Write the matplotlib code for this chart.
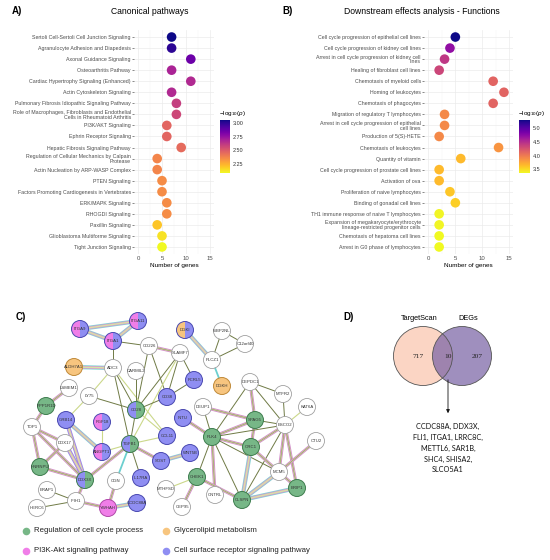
import numpy as np
import matplotlib
matplotlib.use("Agg")
import matplotlib.pyplot as plt
from matplotlib.patches import Circle, Wedge

plt.rcParams["font.family"] = ["Liberation Sans", "DejaVu Sans"]
plt.rcParams["mathtext.fontset"] = "custom"
plt.rcParams["mathtext.rm"] = "Liberation Sans"
plt.rcParams["mathtext.it"] = "Liberation Sans:italic"

# ============================================================
# 1. DATA
# ============================================================

# Panel A - canonical pathways
cp_terms = [
    "Sertoli Cell-Sertoli Cell Junction Signaling",
    "Agranulocyte Adhesion and Diapedesis",
    "Axonal Guidance Signaling",
    "Osteoarthritis Pathway",
    "Cardiac Hypertrophy Signaling (Enhanced)",
    "Actin Cytoskeleton Signaling",
    "Pulmonary Fibrosis Idiopathic Signaling Pathway",
    "Role of Macrophages, Fibroblasts and Endothelial\nCells in Rheumatoid Arthritis",
    "PI3K/AKT Signaling",
    "Ephrin Receptor Signaling",
    "Hepatic Fibrosis Signaling Pathway",
    "Regulation of Cellular Mechanics by Calpain\nProtease",
    "Actin Nucleation by ARP-WASP Complex",
    "PTEN Signaling",
    "Factors Promoting Cardiogenesis in Vertebrates",
    "ERK/MAPK Signaling",
    "RHOGDI Signaling",
    "Paxillin Signaling",
    "Glioblastoma Multiforme Signaling",
    "Tight Junction Signaling",
]
cp_genes = [7, 7, 11, 7, 11, 7, 8, 8, 6, 6, 9, 4, 4, 5, 5, 6, 6, 4, 5, 5]
cp_logp = [3.06, 3.01, 2.86, 2.69, 2.67, 2.67, 2.60, 2.57, 2.47, 2.47,
           2.45, 2.37, 2.37, 2.35, 2.35, 2.35, 2.35, 2.20, 2.13, 2.08]

# Panel B - downstream effects
fn_terms = [
    "Cell cycle progression of epithelial cell lines",
    "Cell cycle progression of kidney cell lines",
    "Arrest in cell cycle progression of kidney cell\nlines",
    "Healing of fibroblast cell lines",
    "Chemotaxis of myeloid cells",
    "Homing of leukocytes",
    "Chemotaxis of phagocytes",
    "Migration of regulatory T lymphocytes",
    "Arrest in cell cycle progression of epithelial\ncell lines",
    "Production of 5(S)-HETE",
    "Chemotaxis of leukocytes",
    "Quantity of vitamin",
    "Cell cycle progression of prostate cell lines",
    "Activation of ova",
    "Proliferation of naive lymphocytes",
    "Binding of gonadal cell lines",
    "TH1 immune response of naive T lymphocytes",
    "Expansion of megakaryocyte/erythrocyte\nlineage-restricted progenitor cells",
    "Chemotaxis of hepatoma cell lines",
    "Arrest in G0 phase of lymphocytes",
]
fn_genes = [5, 4, 3, 2, 12, 14, 12, 3, 3, 2, 13, 6, 2, 2, 4, 5, 2, 2, 2, 2]
fn_logp = [5.29, 4.71, 4.43, 4.33, 4.14, 4.14, 4.14, 3.91, 3.91, 3.91,
           3.85, 3.66, 3.66, 3.66, 3.60, 3.56, 3.39, 3.39, 3.37, 3.37]

# Panel C - network (layout positions in picture pixels)
node_names = ["ITGA9", "ITGA11", "ITGA1", "DGKI", "WBP2NL", "C12orf40", "CD226",
              "SLAMF7", "PLCZ1", "ALDH7A1", "ADC3", "CARMIL2", "FCRL5", "DGKH",
              "DEPDC1", "LSMEM1", "LY75", "CD38", "PPP1R1D", "CD28", "DEUP1",
              "INTU", "SPAG5", "GRB14", "FGF18", "TOP1", "MTFR2", "KAT6A", "ESCO2",
              "CTU2", "MCM5", "BRIP1", "DDX17", "ANGPT1", "TGFB1", "CCL11", "PLK4",
              "ORC1", "HNRNPU", "WNT5B", "SOST", "DDX3X", "CGN", "IL17RA", "CHEK1",
              "MTHFSD", "CNTRL", "CLSPN", "ERAP1", "IFIH1", "HERC6", "YWHAH",
              "CCDC88A", "CEP95"]
node_x = [80, 138, 113, 185, 222, 245, 149, 180, 212, 74, 113, 136, 194, 222,
          250, 69, 89, 167, 46, 136, 203, 183, 255, 66, 102, 32, 283, 307, 285,
          316, 279, 297, 65, 102, 130, 167, 212, 251, 40, 190, 161, 85, 116, 141,
          197, 166, 215, 242, 47, 76, 37, 108, 137, 182]
node_y = [329, 321, 341, 330, 331, 344, 346, 353, 360, 367, 368, 371, 380, 386,
          382, 388, 396, 397, 406, 410, 407, 418, 420, 420, 422, 427, 394, 407,
          425, 441, 472, 488, 443, 452, 444, 436, 437, 447, 467, 453, 461, 480,
          481, 478, 477, 489, 495, 500, 490, 501, 508, 508, 503, 507]
# g = cell cycle, o = glycerolipid, p = PI3K-Akt, b = cell surface receptor
node_groups = ["pb", "pb", "pb", "ob", "", "", "", "", "", "o", "", "", "b", "o",
               "", "", "", "b", "g", "bg", "", "b", "g", "b", "pb", "", "", "", "",
               "", "", "g", "", "pb", "bg", "b", "g", "g", "g", "b", "b", "bg", "",
               "b", "g", "", "", "g", "", "", "", "p", "b", ""]

edges = [
    ("ITGA9", "ITGA11", "m"), ("ITGA9", "ITGA1", "m"), ("ITGA11", "ITGA1", "m"),
    ("ITGA1", "CD226", "d"), ("ITGA1", "ADC3", "d"),
    ("CD226", "SLAMF7", "p"), ("CD226", "CD28", "d"), ("CD226", "CD38", "d"),
    ("SLAMF7", "CD28", "d"), ("SLAMF7", "CD38", "d"), ("SLAMF7", "FCRL5", "d"),
    ("SLAMF7", "TGFB1", "l"), ("ALDH7A1", "ADC3", "m"),
    ("ADC3", "LY75", "l"), ("ADC3", "CD28", "d"), ("ADC3", "TGFB1", "d"),
    ("ADC3", "CCL11", "l"), ("CARMIL2", "CD28", "d"),
    ("LY75", "CD28", "d"), ("LY75", "GRB14", "l"),
    ("LSMEM1", "PPP1R1D", "p"), ("PPP1R1D", "TOP1", "p"),
    ("CD28", "CD38", "d"), ("CD28", "TGFB1", "d"), ("CD28", "CCL11", "l"),
    ("CD38", "FCRL5", "d"),
    ("DGKI", "PLCZ1", "m"), ("WBP2NL", "PLCZ1", "d"), ("WBP2NL", "C12orf40", "d"),
    ("C12orf40", "PLCZ1", "d"), ("PLCZ1", "DGKH", "c"),
    ("DEPDC1", "SPAG5", "p"), ("DEPDC1", "MTFR2", "d"), ("DEPDC1", "ESCO2", "d"),
    ("DEPDC1", "PLK4", "d"), ("DEUP1", "SPAG5", "p"), ("DEUP1", "PLK4", "d"),
    ("INTU", "PLK4", "p"),
    ("SPAG5", "PLK4", "p"), ("SPAG5", "ESCO2", "d"), ("SPAG5", "ORC1", "p"),
    ("MTFR2", "ESCO2", "d"), ("KAT6A", "ESCO2", "l"),
    ("ESCO2", "PLK4", "d"), ("ESCO2", "ORC1", "p"), ("ESCO2", "MCM5", "p"),
    ("ESCO2", "BRIP1", "p"), ("ESCO2", "CLSPN", "d"), ("CTU2", "MCM5", "p"),
    ("PLK4", "ORC1", "p"), ("PLK4", "MCM5", "d"), ("PLK4", "CLSPN", "d"),
    ("PLK4", "CHEK1", "d"), ("PLK4", "CNTRL", "p"),
    ("ORC1", "MCM5", "p"), ("ORC1", "CLSPN", "m"),
    ("MCM5", "CLSPN", "m"), ("BRIP1", "CLSPN", "m"), ("MCM5", "BRIP1", "p"),
    ("CHEK1", "MTHFSD", "l"), ("CHEK1", "CEP95", "p"), ("CHEK1", "CLSPN", "p"),
    ("SOST", "WNT5B", "m"), ("SOST", "TGFB1", "p"),
    ("TGFB1", "ANGPT1", "l"), ("TGFB1", "CCL11", "l"), ("TGFB1", "IL17RA", "d"),
    ("TGFB1", "DDX3X", "p"), ("TGFB1", "CGN", "c"),
    ("FGF18", "ANGPT1", "l"), ("GRB14", "DDX3X", "b"), ("GRB14", "ANGPT1", "m"),
    ("TOP1", "DDX17", "p"), ("TOP1", "HNRNPU", "p"), ("TOP1", "DDX3X", "p"),
    ("DDX17", "HNRNPU", "p"), ("DDX17", "DDX3X", "b"), ("HNRNPU", "DDX3X", "p"),
    ("DDX3X", "IFIH1", "p"), ("CGN", "YWHAH", "p"), ("ERAP1", "IFIH1", "d"),
    ("HERC6", "IFIH1", "d"), ("IFIH1", "YWHAH", "p"), ("YWHAH", "CCDC88A", "m"),
]

legend_labels = ["Regulation of cell cycle process", "Glycerolipid metabolism",
                 "PI3K-Akt signaling pathway", "Cell surface receptor signaling pathway"]
legend_keys = ["g", "o", "p", "b"]

# Panel D - Venn
venn_sets = ["TargetScan", "DEGs"]
venn_counts = [717, 10, 207]
shared_genes = ["CCDC88A", "DDX3X", "FLI1", "ITGA1", "LRRC8C",
                "METTL6", "SAR1B", "SHC4", "SHISA2", "SLCO5A1"]

group_col = {"g": "#77b787", "o": "#f7c57f", "p": "#f07ee8", "b": "#8f8ef2"}
group_edge = {"g": "#3f7d4f", "o": "#c08a3a", "p": "#b04aa8", "b": "#4a49b0"}

W, H = 550, 560
fig = plt.figure(figsize=(W / 100, H / 100), dpi=100)


def px_axes(l, r, t, b):
    return fig.add_axes([l / W, 1 - b / H, (r - l) / W, (b - t) / H])


# ============================================================
# 2. Dot plots (A and B)
# ============================================================

def dot_panel(l, r, terms, genes, logp, cbar_box, cticks, cfmt):
    ax = px_axes(l, r, 30.4, 253.6)
    n = len(terms)
    ypos = np.arange(n)[::-1]
    sc = ax.scatter(genes, ypos, c=logp, cmap="plasma_r", s=48, zorder=3,
                    vmin=min(logp), vmax=max(logp), linewidths=0)
    ax.set_xlim(-0.75, 15.75)
    ax.set_ylim(-0.6, n - 0.4)
    ax.set_xticks([0, 5, 10, 15])
    ax.set_xticks([2.5, 7.5, 12.5], minor=True)
    ax.set_yticks(ypos)
    ax.set_yticklabels(terms, fontsize=3.8, color="#4d4d4d", linespacing=0.95)
    ax.tick_params(axis="x", labelsize=4.3, labelcolor="#4d4d4d", length=0, pad=2)
    ax.tick_params(axis="x", which="minor", length=0)
    ax.tick_params(axis="y", length=1.5, width=0.4, color="#333333", pad=1)
    ax.grid(True, which="major", color="#ebebeb", linewidth=0.5)
    ax.grid(True, which="minor", axis="x", color="#f4f4f4", linewidth=0.3)
    for s in ax.spines.values():
        s.set_visible(False)
    ax.set_xlabel("Number of genes", fontsize=4.6, labelpad=1.5)

    cax = px_axes(*cbar_box)
    cb = fig.colorbar(sc, cax=cax)
    cb.outline.set_visible(False)
    cb.set_ticks(cticks)
    cb.set_ticklabels([cfmt.format(t) for t in cticks])
    cax.tick_params(labelsize=4, length=0, pad=2, labelcolor="#333333")
    fig.text((cbar_box[0] - 1) / W, 1 - 113 / H, r"$-\mathrm{log}_{10}(p)$",
             fontsize=4.6, ha="left", va="center")
    return ax


dot_panel(134.4, 213.6, cp_terms, cp_genes, cp_logp,
          (220, 230, 120, 173), [2.25, 2.5, 2.75, 3.0], "{:.2f}")
dot_panel(424.3, 513.4, fn_terms, fn_genes, fn_logp,
          (519, 530, 120, 173), [3.5, 4.0, 4.5, 5.0], "{:.1f}")

fig.text(12 / W, 1 - 11 / H, "A)", fontsize=7, fontweight="bold", va="center")
fig.text(150 / W, 1 - 11 / H, "Canonical pathways", fontsize=6.2, ha="center", va="center")
fig.text(282 / W, 1 - 11 / H, "B)", fontsize=7, fontweight="bold", va="center")
fig.text(422 / W, 1 - 11 / H, "Downstream effects analysis - Functions",
         fontsize=6.2, ha="center", va="center")

# ============================================================
# 3. Network (C) and Venn (D) on a pixel-scaled overlay
# ============================================================

ov = fig.add_axes([0, 0, 1, 1])
ov.set_xlim(0, W)
ov.set_ylim(H, 0)
ov.axis("off")
ov.patch.set_visible(False)

pos = {nm: (x, y) for nm, x, y in zip(node_names, node_x, node_y)}

edge_styles = {
    "d": [("#6f7a45", 0.7)],
    "l": [("#cbd88a", 0.8)],
    "c": [("#6ccfcf", 1.3)],
    "p": [("#d18cc9", 2.2), ("#d9e2a4", 1.0), ("#7b8450", 0.35)],
    "m": [("#7ed4d4", 3.0), ("#d79bd0", 2.0), ("#d9e2a4", 1.0)],
    "b": [("#8b8be8", 3.0), ("#d79bd0", 2.0), ("#d9e2a4", 1.0)],
}
for a, b, kind in edges:
    (x1, y1), (x2, y2) = pos[a], pos[b]
    for col, lw in edge_styles[kind]:
        ov.plot([x1, x2], [y1, y2], color=col, lw=lw, solid_capstyle="butt", zorder=1)

r_node = 8.5
for nm, x, y, grp in zip(node_names, node_x, node_y, node_groups):
    if grp == "":
        ov.add_patch(Circle((x, y), r_node, facecolor="white", edgecolor="#a0a0a0",
                            lw=0.6, zorder=3))
    elif len(grp) == 1:
        ov.add_patch(Circle((x, y), r_node, facecolor=group_col[grp],
                            edgecolor=group_edge[grp], lw=0.7, zorder=3))
    else:
        ov.add_patch(Wedge((x, y), r_node, 90, 270, facecolor=group_col[grp[0]],
                           lw=0, zorder=3))
        ov.add_patch(Wedge((x, y), r_node, -90, 90, facecolor=group_col[grp[1]],
                           lw=0, zorder=3))
        ov.add_patch(Circle((x, y), r_node, facecolor="none",
                            edgecolor=group_edge[grp[1]], lw=0.7, zorder=4))
    ov.text(x, y, nm, fontsize=3.1, ha="center", va="center", color="#333333", zorder=5)

# legend of panel C
leg_x = [26, 166, 26, 166]
leg_y = [531, 531, 551, 551]
for lx, ly, key, lab in zip(leg_x, leg_y, legend_keys, legend_labels):
    ov.scatter([lx], [ly], s=30, color=group_col[key], zorder=3, linewidths=0)
    ov.text(lx + 8, ly, lab, fontsize=5.6, ha="left", va="center", color="#222222")

fig.text(16 / W, 1 - 317 / H, "C)", fontsize=7, fontweight="bold", va="center")
fig.text(343 / W, 1 - 317 / H, "D)", fontsize=7, fontweight="bold", va="center")

# Venn diagram
cy = 356
ov.add_patch(Circle((423, cy), 29.5, facecolor="#fbd5c4", edgecolor="none", zorder=2))
ov.add_patch(Circle((462, cy), 29.5, facecolor="#7a64a6", alpha=0.72,
                    edgecolor="none", zorder=2))
ov.add_patch(Circle((423, cy), 29.5, facecolor="none", edgecolor="#555555", lw=0.6, zorder=3))
ov.add_patch(Circle((462, cy), 29.5, facecolor="none", edgecolor="#555555", lw=0.6, zorder=3))
ov.text(419, 318, venn_sets[0], fontsize=5.3, ha="center", va="center")
ov.text(468, 318, venn_sets[1], fontsize=5.3, ha="center", va="center")
for vx, cnt in zip([418, 448, 477], venn_counts):
    ov.text(vx, cy, str(cnt), fontsize=5.4, ha="center", va="center",
            family="Liberation Serif", color="#222222", zorder=4)

ov.annotate("", xy=(448, 416), xytext=(448, 377),
            arrowprops=dict(arrowstyle="-|>", color="#111111", lw=0.6,
                            mutation_scale=5), zorder=4)

gene_lines = [", ".join(shared_genes[0:2]) + ",",
              ", ".join(shared_genes[2:5]) + ",",
              ", ".join(shared_genes[5:7]) + ",",
              ", ".join(shared_genes[7:9]) + ",",
              shared_genes[9]]
for i, line in enumerate(gene_lines):
    ov.text(448, 426 + 11 * i, line, fontsize=5.2, ha="center", va="center",
            family="Lato", color="#111111")

plt.savefig("out.png", dpi=100)
